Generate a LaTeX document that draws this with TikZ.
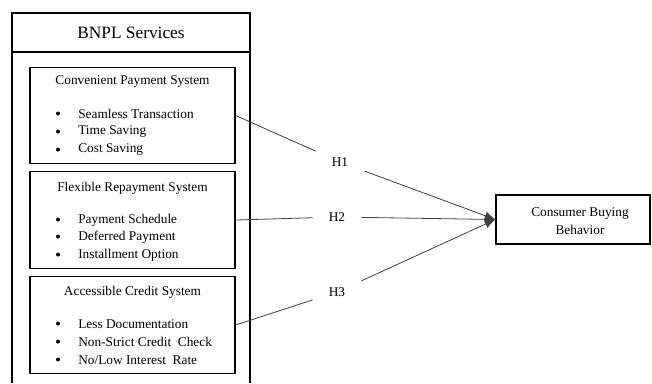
\documentclass[tikz,border=0pt]{standalone}
\usepackage{fontspec}
\setmainfont{Liberation Serif}
\usetikzlibrary{arrows.meta}

\tikzset{
  sysbox/.style={draw=black, line width=0.9pt, minimum width=153.75pt, minimum height=72.5pt, inner sep=0pt},
  hlabel/.style={inner xsep=12pt, inner ysep=6pt},
  link/.style={draw=black!75, line width=0.6pt},
  tip/.style={-{Latex[length=8pt,width=6.5pt]}}
}

\begin{document}
\begin{tikzpicture}[x=0.75pt,y=-0.75pt]
\tikzstyle{every node}+=[font=\fontsize{10}{12}\selectfont]
\useasboundingbox (0,0) rectangle (652,383);
% outer frame, open at the bottom
\draw [line width=0.9pt] (12,383) -- (12,13) -- (250,13) -- (250,383);
\draw [line width=0.9pt] (12,52) -- (250,52);
\node (bnpl) at (131,33) {\fontsize{13}{15}\selectfont BNPL Services};
% the three systems
\node (b1) [sysbox] at (132.5,115.5) {};
\node (b2) [sysbox] at (132.5,220) {};
\node (b3) [sysbox] at (132.5,325) {};
\node (t1) at (132.5,82) {Convenient Payment System};
\node (t2) at (132.5,188) {Flexible Repayment System};
\node (t3) at (132.5,292) {Accessible Credit System};
\foreach \y/\txt in {114/Seamless Transaction, 132/Time Saving, 150/Cost Saving,
                     220/Payment Schedule, 237/Deferred Payment, 255/Installment Option,
                     324/Less Documentation, 342/{Non-Strict Credit\ \ Check}, 360/{No/Low Interest\ \ Rate}}
{
  \fill (58,\y-0.5) circle (2);
  \node [anchor=west, inner sep=0pt] at (78,\y) {\txt};
}
% outcome
\node (cbb) [draw=black, line width=0.9pt, minimum width=115.5pt, minimum height=36.75pt] at (573,219.5) {};
\node (cbbtxt) [align=center, font=\fontsize{10}{13.5}\selectfont] at (580,221) {Consumer Buying\\Behavior};
% hypotheses
\node (h1) [hlabel] at (340,162) {H1};
\node (h2) [hlabel] at (337,217) {H2};
\node (h3) [hlabel] at (337,292) {H3};
\draw [link] (b1.east) -- (h1);
\draw [link] (b2.east) -- (h2);
\draw [link] (b3.east) -- (h3);
\draw [link,tip] (h1) -- (cbb.west);
\draw [link,tip] (h2) -- (cbb.west);
\draw [link,tip] (h3) -- (cbb.west);
\end{tikzpicture}
\end{document}
